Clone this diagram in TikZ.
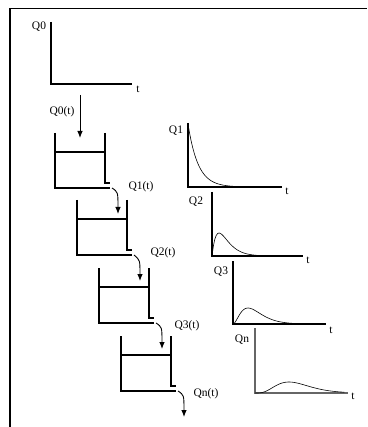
\documentclass[tikz,border=0pt]{standalone}
\usepackage{fontspec}
\setmainfont{Liberation Serif}
\usepackage{tikz}
\usetikzlibrary{positioning,arrows.meta}

\tikzset{
  wall/.style={line width=1.3pt},
  axis/.style={line width=1.2pt},
  curve/.style={line width=0.6pt},
  flow/.style={-{Latex[length=7pt,width=5.5pt]}, line width=0.9pt},
  lbl/.style={inner sep=0pt, font=\fontsize{11.5}{13}\selectfont},
}

\begin{document}
\begin{tikzpicture}[x=1pt, y=-1pt]
      % Page size and frame
      \useasboundingbox (0,0) rectangle (367,427);
      \draw[line width=1.3pt] (10,427) -- (10,8.5) -- (367,8.5);

      % Input pulse axes
      \draw[axis] (51,22) -- (51,84) -- (132,84);
      \node[lbl] (q0) at (39,27) {Q0};
      \node[lbl] (t0) at (138,89) {t};

      % Inflow to the first tank
      \coordinate (in0) at (80,95);
      \node[lbl] (flow0) at (62,112) {Q0(t)};

      % Draw the tanks
      \foreach \i/\X/\Y in {1/55/133, 2/77/200, 3/99/268, 4/121/336} {
        \draw[wall] (\X,\Y) -- (\X,\Y+55) -- (\X+55,\Y+55);
        \draw[wall] (\X+50,\Y) -- (\X+50,\Y+50) -- (\X+55,\Y+50);
        \draw[wall] (\X,\Y+19) -- (\X+50,\Y+19);
        \coordinate (top\i) at (\X+25,\Y+5);
        \coordinate (out\i) at (\X+57,\Y+55);
        \coordinate (down\i) at (\X+63,\Y+81);
      }
      \draw[flow] (in0) -- (top1);
      \draw[flow] (out1) .. controls (118,192) .. (down1);
      \draw[flow] (out2) .. controls (140,260) .. (down2);
      \draw[flow] (out3) .. controls (162,327) .. (down3);
      \draw[flow] (out4) .. controls (184,395) .. (down4);

      % Outflow labels
      \node[lbl] (flow1) at (141,187) {Q1(t)};
      \node[lbl] (flow2) at (163,253) {Q2(t)};
      \node[lbl] (flow3) at (187,326) {Q3(t)};
      \node[lbl] (flown) at (206,394) {Qn(t)};

      % Response curves
      \draw[axis] (188,123) -- (188,187) -- (282,187);
      \node[lbl] (q1) at (176,131) {Q1};
      \node[lbl] (t1) at (287,191) {t};
      \draw[curve, domain=0:9, samples=60] plot ({188+10*\x}, {187-63*exp(-\x)});

      \draw[axis] (212,192) -- (212,256) -- (303,256);
      \node[lbl] (q2) at (196,202) {Q2};
      \node[lbl] (t2) at (308,260) {t};
      \draw[curve, domain=0:12, samples=60] plot ({212+7*\x}, {256-23*\x*exp(1-\x)});

      \draw[axis] (233,261) -- (233,324) -- (326,324);
      \node[lbl] (q3) at (221,272) {Q3};
      \node[lbl] (t3) at (331,330) {t};
      \draw[curve, domain=0:12, samples=60] plot ({233+7.5*\x}, {324-16*(\x/2)*(\x/2)*exp(2-\x)});

      \draw[axis, draw=black!60] (255,328) -- (255,393) -- (348,393);
      \node[lbl] (qn) at (242,340) {Qn};
      \node[lbl] (tn) at (353,396) {t};
      \draw[curve, domain=0:10.5, samples=60] plot ({255+8.5*\x}, {393-11*(\x/4)*(\x/4)*(\x/4)*(\x/4)*exp(4-\x)});
\end{tikzpicture}
\end{document}
